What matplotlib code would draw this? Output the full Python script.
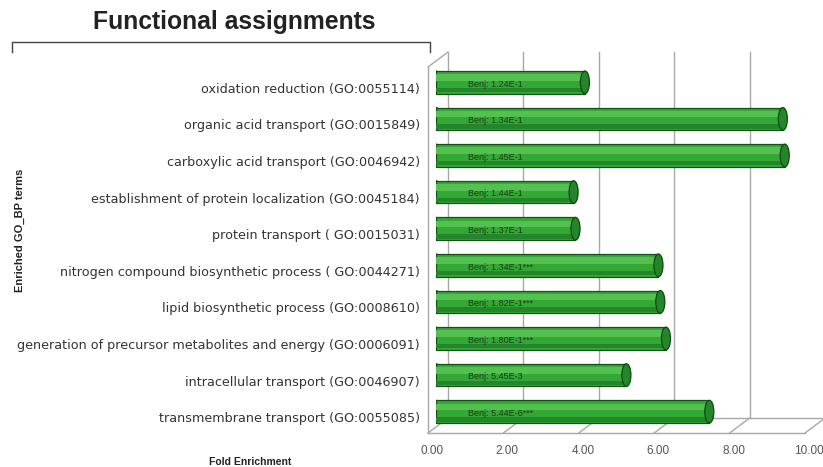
import matplotlib.pyplot as plt
import numpy as np
from matplotlib.patches import Ellipse
from matplotlib.transforms import offset_copy

# данные
terms = [
    "oxidation reduction (GO:0055114)",
    "organic acid transport (GO:0015849)",
    "carboxylic acid transport (GO:0046942)",
    "establishment of protein localization (GO:0045184)",
    "protein transport ( GO:0015031)",
    "nitrogen compound biosynthetic process ( GO:0044271)",
    "lipid biosynthetic process (GO:0008610)",
    "generation of precursor metabolites and energy (GO:0006091)",
    "intracellular transport (GO:0046907)",
    "transmembrane transport (GO:0055085)",
]
fold = [3.95, 9.2, 9.25, 3.65, 3.7, 5.9, 5.95, 6.1, 5.05, 7.25]
benj = ["1.24E-1", "1.34E-1", "1.45E-1", "1.44E-1", "1.37E-1",
        "1.34E-1***", "1.82E-1***", "1.80E-1***", "5.45E-3", "5.44E-6***"]
xticks = [0, 2, 4, 6, 8, 10]

W, H = 823, 467
fig = plt.figure(figsize=(W / 100, H / 100), dpi=100)
fig.patch.set_facecolor('white')

# плоскость столбцов в пикселях картинки
left, right, top, bottom = 436, 813, 64, 430
ax = fig.add_axes([left / W, 1 - bottom / H, (right - left) / W, (bottom - top) / H])
ax.set_xlim(0, 10)
ax.set_ylim(len(terms) - 0.5, -0.5)
ax.axis('off')

front = offset_copy(ax.transData, fig=fig, x=-8, y=-3, units='dots')
back = offset_copy(ax.transData, fig=fig, x=12, y=12, units='dots')
floor, ceil = len(terms) - 0.5, -0.5
grid_c = '#a8a8a8'

# задняя стенка и пол
for v in xticks:
    ax.plot([v, v], [floor, ceil], color=grid_c, lw=1.0, transform=back, clip_on=False, zorder=0)
    ax.annotate('', xy=(v, floor), xycoords=back, xytext=(v, floor), textcoords=front,
                arrowprops=dict(arrowstyle='-', color=grid_c, lw=1.0, shrinkA=0, shrinkB=0))
    ax.text(v, floor, f"{v:.2f}", transform=offset_copy(front, fig=fig, x=4, y=-18, units='dots'),
            ha='center', va='center', fontsize=8.5, color='#555555', family='Liberation Sans')
ax.plot([0, 10], [floor, floor], color=grid_c, lw=1.0, transform=front, clip_on=False, zorder=0)
ax.plot([0, 10], [floor, floor], color=grid_c, lw=1.0, transform=back, clip_on=False, zorder=0)
# левая стенка
ax.plot([0, 0], [floor, ceil], color=grid_c, lw=1.0, transform=front, clip_on=False, zorder=0)
ax.annotate('', xy=(0, ceil), xycoords=back, xytext=(0, ceil), textcoords=front,
            arrowprops=dict(arrowstyle='-', color=grid_c, lw=1.0, shrinkA=0, shrinkB=0))

# цилиндрические столбцы
y = np.arange(len(terms))
bh = 0.62
ax.barh(y, fold, height=bh, color='#34a834', edgecolor='#145214', linewidth=0.9, zorder=3)
ax.barh(y - 0.13, fold, height=0.18, color='#55c052', linewidth=0, zorder=4)
ax.barh(y + 0.21, fold, height=0.12, color='#23862a', linewidth=0, zorder=4)
for i, v in enumerate(fold):
    ax.add_patch(Ellipse((v, i), 0.24, bh, facecolor='#23862a', edgecolor='#0f4a0f',
                         linewidth=0.9, zorder=5))
    ax.add_patch(Ellipse((0, i), 0.24, bh, facecolor='#34a834', edgecolor='#145214',
                         linewidth=0.9, zorder=2))
    ax.text(0.85, i + 0.05, f"Benj: {benj[i]}", ha='left', va='center', fontsize=6.5,
            color='#1a3a1a', zorder=6, family='Liberation Sans')
    ax.text(0, i, terms[i], transform=offset_copy(ax.transData, fig=fig, x=-16, y=-7, units='dots'),
            ha='right', va='center', fontsize=9.2, color='#333333', family='DejaVu Sans')

# заголовок и скобка
fig.text(234 / W, 1 - 22 / H, "Functional assignments", ha='center', va='center',
         fontsize=17.8, fontweight='bold', color='#222222', family='Liberation Sans')
fig.add_artist(plt.Line2D([12 / W, 12 / W, 430 / W, 430 / W],
                          [1 - 52 / H, 1 - 42 / H, 1 - 42 / H, 1 - 52 / H],
                          color='#444444', lw=1.0))
fig.text(20 / W, 1 - 230 / H, "Enriched GO_BP terms", rotation=90, ha='center', va='center',
         fontsize=8, fontweight='bold', color='#222222', family='Liberation Sans')
fig.text(250 / W, 1 - 462 / H, "Fold Enrichment", ha='center', va='center',
         fontsize=7.5, fontweight='bold', color='#222222', family='Liberation Sans')

fig.savefig('out.png', dpi=100)
